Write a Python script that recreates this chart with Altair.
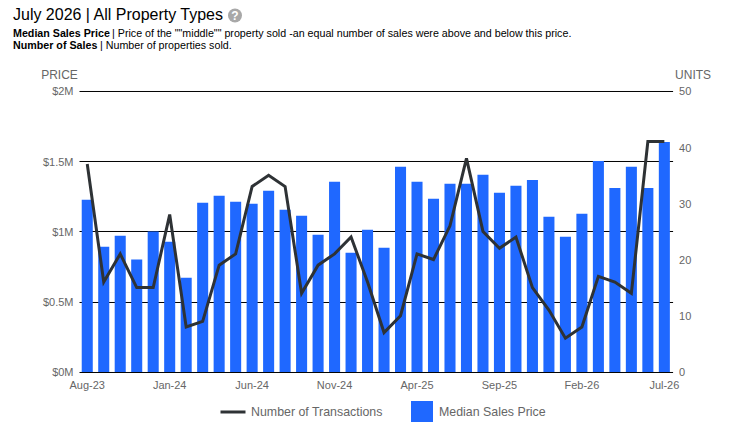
import altair as alt
import pandas as pd

months = ["Aug-23","Sep-23","Oct-23","Nov-23","Dec-23","Jan-24","Feb-24","Mar-24","Apr-24","May-24","Jun-24","Jul-24",
          "Aug-24","Sep-24","Oct-24","Nov-24","Dec-24","Jan-25","Feb-25","Mar-25","Apr-25","May-25","Jun-25","Jul-25",
          "Aug-25","Sep-25","Oct-25","Nov-25","Dec-25","Jan-26","Feb-26","Mar-26","Apr-26","May-26","Jun-26","Jul-26"]
price_m = [1.225,0.891,0.969,0.80,1.0,0.927,0.67,1.204,1.254,1.211,1.197,1.289,
           1.154,1.111,0.976,1.353,0.848,1.012,0.884,1.46,1.353,1.232,1.339,1.339,
           1.403,1.275,1.325,1.367,1.104,0.962,1.126,1.502,1.31,1.46,1.31,1.637]
units = [37,16,21,15,15,28,8,9,19,21,33,35,33,14,19,21,24,16,7,10,21,20,26,38,25,22,24,15,11,6,8,17,16,14,41,41]
tick_labels = ["Aug-23","Jan-24","Jun-24","Nov-24","Apr-25","Sep-25","Feb-26","Jul-26"]
price_ticks = [0,0.5,1,1.5,2]
unit_ticks = [0,10,20,30,40,50]

FONT = "Liberation Sans"
GREY = "#666666"
BLUE = "#1f68ff"
DARK = "#2e3235"
TOP = 91

df = pd.DataFrame({"month": months, "price": price_m, "units": units,
                   "bar_series": "Median Sales Price", "line_series": "Number of Transactions"})
base = alt.Chart(df)
xenc = alt.X("month:N", sort=months, title=None,
             scale=alt.Scale(paddingInner=0.33, paddingOuter=0.165),
             axis=alt.Axis(values=tick_labels, labelAngle=0, ticks=False, domain=False, labelPadding=8,
                           labelFont=FONT, labelFontSize=11, labelColor=GREY))

bars = base.mark_bar().encode(
    x=xenc,
    y=alt.Y("price:Q", scale=alt.Scale(domain=[0, 2]), title="PRICE",
            axis=alt.Axis(values=price_ticks, orient="left", ticks=False, domain=False, grid=True,
                          gridColor="#000000", gridOpacity=1, gridWidth=1, labelPadding=6, labelOffset=1,
                          labelFont=FONT, labelFontSize=11, labelColor=GREY,
                          labelExpr="'$' + datum.value + 'M'",
                          titleAngle=0, titleFont=FONT, titleFontSize=12, titleFontWeight="normal",
                          titleColor=GREY, titleX=-20, titleY=-9, titleAlign="center")),
    fill=alt.Fill("bar_series:N", title=None,
                  scale=alt.Scale(domain=["Median Sales Price"], range=[BLUE]),
                  legend=alt.Legend(orient="none", legendX=332, legendY=310, symbolType="square",
                                    symbolSize=484, symbolStrokeWidth=0, labelFont=FONT, labelFontSize=12.4,
                                    labelColor=GREY, labelLimit=200, labelOffset=6)),
)

line = base.mark_line(strokeWidth=3).encode(
    x=xenc,
    y=alt.Y("units:Q", scale=alt.Scale(domain=[0, 50]), title="UNITS",
            axis=alt.Axis(values=unit_ticks, orient="right", ticks=False, domain=False, grid=False, labelPadding=6, labelOffset=1,
                          labelFont=FONT, labelFontSize=11, labelColor=GREY,
                          titleAngle=0, titleFont=FONT, titleFontSize=12, titleFontWeight="normal",
                          titleColor=GREY, titleX=20, titleY=-9, titleAlign="center")),
    stroke=alt.Stroke("line_series:N", title=None,
                      scale=alt.Scale(domain=["Number of Transactions"], range=[DARK]),
                      legend=alt.Legend(orient="none", legendX=140, legendY=307, symbolType="stroke",
                                        symbolSize=625, symbolStrokeWidth=3, labelFont=FONT, labelFontSize=12.4,
                                        labelColor=GREY, labelLimit=200, labelOffset=4)),
)

def label(text, x, y, size=10.7, weight="normal", color="#000000", align="left"):
    return alt.Chart(pd.DataFrame({"t": [text]})).mark_text(
        font=FONT, fontSize=size, fontWeight=weight, color=color, align=align, baseline="alphabetic"
    ).encode(x=alt.value(x - 79), y=alt.value(y - TOP), text="t:N")

header = [
    label("July 2026 | All Property Types", 13, 20.5, size=16),
    label("Median Sales Price", 13, 37, weight="bold"),
    label("| Price of the \"\"middle\"\" property sold -an equal number of sales were above and below this price.", 112, 37),
    label("Number of Sales", 13, 49, weight="bold"),
    label("| Number of properties sold.", 100, 49),
    alt.Chart(pd.DataFrame({"t": ["?"]})).mark_point(filled=True, size=196, color="#a8a8a8", opacity=1, shape="circle")
        .encode(x=alt.value(235 - 79), y=alt.value(15.5 - TOP)),
    label("?", 235, 20, size=12, weight="bold", color="#ffffff", align="center"),
]

chart = alt.layer(bars, line, *header).resolve_scale(
    y="independent", fill="independent", stroke="independent"
).properties(
    width=593.6, height=280.9,
    autosize=alt.AutoSizeParams(type="none"),
    padding={"left": 71, "top": TOP - 8, "right": 60, "bottom": 50},
).configure_view(stroke=None)

chart.save("out.html", embed_options={"renderer": "svg", "actions": False})
